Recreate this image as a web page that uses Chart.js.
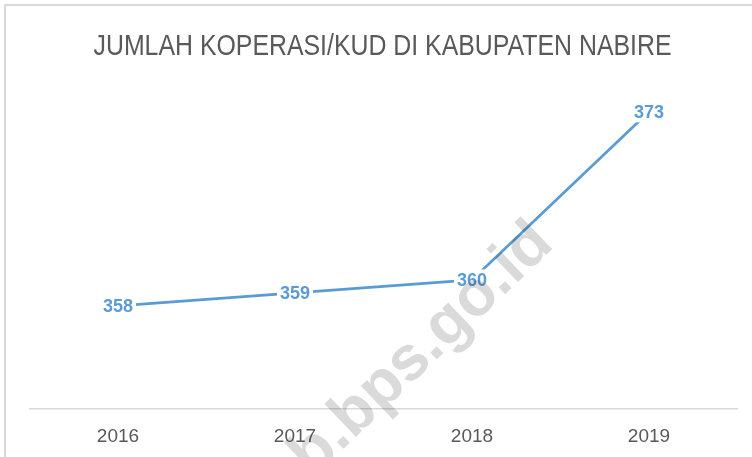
<!DOCTYPE html>
<html>
<head>
<meta charset="utf-8">
<script src="https://cdn.jsdelivr.net/npm/chart.js@4"></script>
<style>
  html, body { margin: 0; padding: 0; background: #ffffff; }
  #wrap { width: 752px; height: 457px; }
</style>
</head>
<body>
<div id="wrap"><canvas id="c" width="752" height="457"></canvas></div>
<script>
const chartTitle = 'JUMLAH KOPERASI/KUD DI KABUPATEN NABIRE';
const years = ['2016', '2017', '2018', '2019'];
const koperasiCount = [358, 359, 360, 373];
const watermarkText = 'nabirekab.bps.go.id';

const bgPlugin = {
  id: 'bg',
  beforeDraw(chart) {
    const ctx = chart.ctx;
    ctx.save();
    ctx.fillStyle = '#ffffff';
    ctx.fillRect(0, 0, chart.width, chart.height);
    ctx.strokeStyle = '#d9d9d9';
    ctx.lineWidth = 2;
    ctx.beginPath();
    ctx.moveTo(5, chart.height);
    ctx.lineTo(5, 5);
    ctx.lineTo(chart.width, 5);
    ctx.stroke();
    ctx.restore();
  }
};

const titlePlugin = {
  id: 'narrowTitle',
  afterDraw(chart) {
    const ctx = chart.ctx;
    ctx.save();
    ctx.font = '30px "Liberation Sans", Arial, sans-serif';
    ctx.fillStyle = '#595959';
    ctx.textAlign = 'center';
    ctx.textBaseline = 'middle';
    const w = ctx.measureText(chartTitle).width;
    const sx = 578 / w;
    ctx.translate(382.5, 47);
    ctx.scale(sx, 1);
    ctx.fillText(chartTitle, 0, 0);
    ctx.restore();
  }
};

const labelPlugin = {
  id: 'valueLabels',
  afterDatasetsDraw(chart) {
    const ctx = chart.ctx;
    const meta = chart.getDatasetMeta(0);
    ctx.save();
    ctx.font = 'bold 18px "Liberation Sans", Arial, sans-serif';
    ctx.textAlign = 'center';
    ctx.textBaseline = 'middle';
    meta.data.forEach((pt, i) => {
      const t = String(koperasiCount[i]);
      const w = ctx.measureText(t).width;
      ctx.fillStyle = '#ffffff';
      ctx.fillRect(pt.x - w / 2 - 3, pt.y - 10.5, w + 6, 21);
      ctx.fillStyle = '#5b9bd5';
      ctx.fillText(t, pt.x, pt.y + 1);
    });
    ctx.restore();
  }
};

const watermarkPlugin = {
  id: 'watermark',
  afterDraw(chart) {
    const ctx = chart.ctx;
    ctx.save();
    ctx.globalCompositeOperation = 'multiply';
    ctx.font = 'bold 63px "Liberation Sans", Arial, sans-serif';
    ctx.fillStyle = '#dadada';
    ctx.textAlign = 'left';
    ctx.textBaseline = 'alphabetic';
    const prefix = 'nabirekab.bps';
    const off = ctx.measureText(prefix).width + ctx.measureText('.').width / 2;
    ctx.translate(437, 353);
    ctx.rotate(-43.7 * Math.PI / 180);
    ctx.fillText(watermarkText, -off, 4.5);
    ctx.restore();
  }
};

new Chart(document.getElementById('c'), {
  type: 'line',
  data: {
    labels: years,
    datasets: [{
      data: koperasiCount,
      borderColor: '#5b9bd5',
      borderWidth: 2.75,
      pointRadius: 0,
      pointHoverRadius: 0,
      tension: 0,
      fill: false
    }]
  },
  options: {
    responsive: false,
    animation: false,
    devicePixelRatio: 1,
    layout: { padding: { left: 29.5, right: 14.5, top: 86, bottom: -7 } },
    plugins: {
      legend: { display: false },
      tooltip: { enabled: false },
      title: { display: false }
    },
    scales: {
      x: {
        offset: true,
        grid: { display: false, drawTicks: false },
        border: { display: true, color: '#d9d9d9', width: 1.5 },
        ticks: {
          color: '#595959',
          padding: 16,
          font: { family: '"Liberation Sans", Arial, sans-serif', size: 19 }
        }
      },
      y: {
        display: false,
        min: 350,
        max: 375
      }
    }
  },
  plugins: [bgPlugin, labelPlugin, watermarkPlugin, titlePlugin]
});
</script>
</body>
</html>
